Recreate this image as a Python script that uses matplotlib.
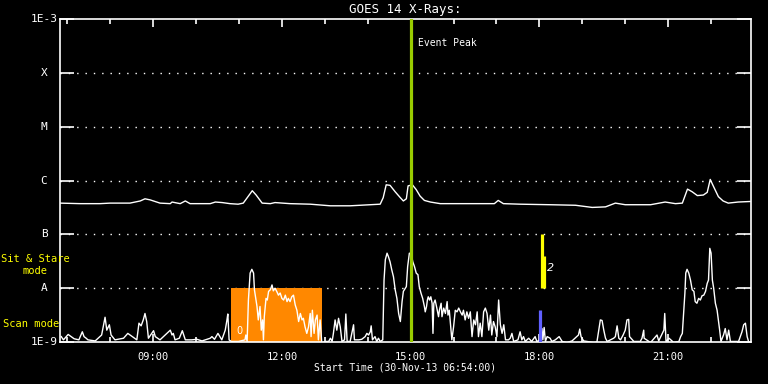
import numpy as np
import matplotlib
matplotlib.use("Agg")
import matplotlib.pyplot as plt
import matplotlib.transforms as mtransforms

# ---------- Data (time in hours of 30-Nov-13, log10 flux in W/m^2) ----------
long_t = [6.83, 7.30, 7.76, 8.00, 8.46, 8.70, 8.81, 8.93, 9.16, 9.40, 9.44, 9.63, 9.75, 9.86,
          10.33, 10.45, 10.61, 10.79, 10.98, 11.10, 11.21, 11.31, 11.40, 11.54, 11.73, 11.84,
          12.19, 12.66, 13.13, 13.59, 14.06, 14.29, 14.36, 14.43, 14.52, 14.64, 14.76, 14.83,
          14.90, 14.94, 15.04, 15.13, 15.22, 15.32, 15.46, 15.69, 16.16, 16.62, 16.95, 17.04,
          17.16, 17.55, 18.25, 18.84, 19.23, 19.54, 19.77, 20.00, 20.59, 20.93, 21.17, 21.33,
          21.45, 21.56, 21.68, 21.82, 21.91, 21.98, 22.05, 22.17, 22.28, 22.40, 22.63, 22.91]
long_log = [-6.42, -6.43, -6.43, -6.42, -6.42, -6.38, -6.34, -6.36, -6.42, -6.43, -6.40, -6.43,
            -6.38, -6.43, -6.43, -6.40, -6.41, -6.43, -6.44, -6.42, -6.30, -6.19, -6.27, -6.42,
            -6.43, -6.41, -6.43, -6.44, -6.47, -6.47, -6.45, -6.44, -6.32, -6.08, -6.09, -6.21,
            -6.32, -6.38, -6.34, -6.10, -6.08, -6.17, -6.29, -6.37, -6.40, -6.43, -6.43, -6.43,
            -6.43, -6.37, -6.43, -6.44, -6.45, -6.46, -6.50, -6.49, -6.42, -6.45, -6.45, -6.40,
            -6.43, -6.42, -6.16, -6.21, -6.28, -6.27, -6.22, -5.98, -6.10, -6.30, -6.38, -6.42,
            -6.40, -6.39]

short_t = [6.86, 6.91, 7.02, 7.16, 7.27, 7.35, 7.39, 7.44, 7.48, 7.65, 7.80, 7.88, 7.92, 7.98,
           8.02, 8.11, 8.31, 8.41, 8.62, 8.67, 8.72, 8.77, 8.81, 8.85, 8.89, 9.01, 9.05, 9.16,
           9.28, 9.40, 9.44, 9.47, 9.51, 9.61, 9.68, 9.75, 9.90, 10.02, 10.14, 10.33, 10.37,
           10.43, 10.51, 10.60, 10.68, 10.72, 10.74, 10.77, 10.82, 10.99, 11.14, 11.16, 11.19,
           11.22, 11.26, 11.30, 11.34, 11.36, 11.39, 11.42, 11.45, 11.49, 11.52, 11.55, 11.57,
           11.59, 11.63, 11.66, 11.69, 11.73, 11.77, 11.80, 11.84, 11.88, 11.92, 11.96, 12.00,
           12.04, 12.08, 12.12, 12.15, 12.19, 12.23, 12.27, 12.31, 12.35, 12.39, 12.43, 12.47,
           12.50, 12.54, 12.58, 12.62, 12.66, 12.68, 12.71, 12.75, 12.78, 12.82, 12.85, 12.89,
           12.93, 13.01, 13.09, 13.13, 13.17, 13.20, 13.24, 13.28, 13.32, 13.36, 13.40, 13.46,
           13.49, 13.52, 13.59, 13.67, 13.69, 13.79, 13.86, 13.94, 13.98, 14.02, 14.06, 14.08,
           14.11, 14.17, 14.21, 14.25, 14.29, 14.35, 14.38, 14.41, 14.45, 14.48, 14.52, 14.56,
           14.60, 14.64, 14.68, 14.72, 14.76, 14.80, 14.83, 14.90, 14.93, 14.97, 15.01, 15.05,
           15.09, 15.13, 15.17, 15.20, 15.24, 15.28, 15.32, 15.34, 15.37, 15.39, 15.41, 15.44,
           15.47, 15.50, 15.52, 15.54, 15.57, 15.61, 15.65, 15.67, 15.71, 15.73, 15.77, 15.81,
           15.85, 15.87, 15.90, 15.93, 15.96, 16.00, 16.04, 16.08, 16.12, 16.16, 16.20, 16.23,
           16.27, 16.31, 16.35, 16.39, 16.43, 16.47, 16.51, 16.55, 16.58, 16.62, 16.66, 16.70,
           16.74, 16.78, 16.82, 16.86, 16.89, 16.93, 16.97, 17.01, 17.05, 17.09, 17.13, 17.17,
           17.21, 17.28, 17.32, 17.36, 17.40, 17.50, 17.55, 17.59, 17.63, 17.67, 17.75, 17.82,
           17.90, 17.94, 18.02, 18.06, 18.08, 18.11, 18.14, 18.18, 18.25, 18.29, 18.37, 18.46,
           18.53, 18.64, 18.76, 18.91, 18.94, 18.97, 19.03, 19.27, 19.34, 19.42, 19.46, 19.50,
           19.54, 19.58, 19.73, 19.77, 19.81, 19.85, 19.89, 19.95, 20.00, 20.04, 20.08, 20.10,
           20.20, 20.35, 20.39, 20.43, 20.44, 20.59, 20.74, 20.78, 20.90, 20.92, 20.95, 21.02,
           21.13, 21.25, 21.29, 21.33, 21.36, 21.39, 21.41, 21.44, 21.48, 21.52, 21.56, 21.60,
           21.63, 21.67, 21.71, 21.75, 21.79, 21.83, 21.87, 21.91, 21.94, 21.97, 22.00, 22.03,
           22.06, 22.10, 22.14, 22.17, 22.20, 22.23, 22.29, 22.33, 22.37, 22.41, 22.45, 22.64,
           22.72, 22.76, 22.80, 22.84, 22.88, 22.91]
short_log = [-8.90, -8.96, -8.86, -8.94, -8.96, -8.81, -8.90, -8.93, -8.96, -8.98, -8.87, -8.54,
             -8.78, -8.68, -8.87, -8.96, -8.93, -8.84, -8.96, -8.65, -8.70, -8.59, -8.47, -8.62,
             -8.93, -8.79, -8.90, -8.96, -8.87, -8.78, -8.87, -8.84, -8.96, -8.93, -8.79, -8.96,
             -8.96, -8.95, -8.98, -8.93, -8.90, -8.95, -8.84, -8.96, -8.78, -8.59, -8.48, -8.96,
             -8.99, -8.99, -8.96, -8.87, -8.99, -8.22, -7.72, -7.65, -7.72, -8.03, -8.19, -8.34,
             -8.59, -8.34, -8.78, -8.59, -8.96, -8.53, -8.19, -8.22, -8.06, -8.03, -7.94, -8.05,
             -8.00, -8.06, -8.13, -8.09, -8.19, -8.22, -8.13, -8.25, -8.19, -8.25, -8.16, -8.13,
             -8.31, -8.41, -8.62, -8.47, -8.59, -8.56, -8.72, -8.84, -8.72, -8.47, -8.90, -8.41,
             -8.84, -8.59, -8.50, -8.96, -8.59, -9.02, -8.99, -8.99, -8.93, -8.99, -8.84, -8.59,
             -8.78, -8.56, -8.72, -8.99, -8.96, -8.48, -8.99, -8.99, -8.68, -8.96, -8.96, -8.95,
             -8.90, -8.84, -8.87, -8.81, -8.70, -8.96, -8.90, -8.99, -8.93, -8.99, -8.96, -7.85,
             -7.47, -7.35, -7.41, -7.51, -7.66, -7.79, -8.03, -8.19, -8.47, -8.62, -8.25, -8.06,
             -7.97, -7.60, -7.35, -7.36, -7.51, -7.60, -7.72, -7.75, -7.97, -8.09, -8.19, -8.34,
             -8.44, -8.34, -8.22, -8.16, -8.22, -8.16, -8.28, -8.84, -8.28, -8.22, -8.37, -8.53,
             -8.41, -8.28, -8.53, -8.37, -8.47, -8.25, -8.50, -8.41, -8.68, -8.96, -8.72, -8.41,
             -8.44, -8.37, -8.44, -8.50, -8.41, -8.59, -8.44, -8.56, -8.44, -8.90, -8.59, -8.68,
             -8.44, -8.90, -8.65, -8.90, -8.44, -8.37, -8.47, -8.78, -8.50, -8.87, -8.62, -8.72,
             -8.90, -8.22, -8.68, -8.84, -8.68, -8.96, -8.96, -8.93, -8.84, -8.99, -8.96, -8.81,
             -8.96, -8.90, -8.99, -8.93, -8.99, -8.90, -8.99, -8.96, -8.75, -8.96, -8.73, -8.99,
             -8.90, -8.93, -8.99, -8.96, -8.90, -8.99, -9.01, -8.98, -8.87, -8.76, -8.90, -8.98,
             -9.01, -9.00, -8.59, -8.60, -8.78, -8.93, -8.99, -8.93, -8.90, -8.70, -8.93, -8.96,
             -8.87, -8.78, -8.59, -8.58, -8.90, -8.99, -8.99, -8.93, -8.78, -8.93, -9.01, -8.87,
             -8.98, -8.78, -8.47, -8.99, -8.93, -9.01, -8.99, -8.90, -8.84, -8.47, -8.09, -7.72,
             -7.65, -7.72, -7.85, -8.03, -8.06, -8.25, -8.28, -8.19, -8.22, -8.14, -8.13, -8.06,
             -7.91, -7.85, -7.26, -7.35, -7.85, -8.00, -8.28, -8.41, -8.59, -8.78, -8.99, -8.87,
             -8.75, -8.96, -8.78, -8.99, -8.99, -8.81, -8.68, -8.65, -8.90, -9.01, -9.01]

class_levels = [1e-9, 1e-8, 1e-7, 1e-6, 1e-5, 1e-4, 1e-3]
class_labels = ["1E-9", "A", "B", "C", "M", "X", "1E-3"]
hour_ticks = [9, 12, 15, 18, 21]
hour_labels = ["09:00", "12:00", "15:00", "18:00", "21:00"]

event_peak = 15.0
scan_window = (10.82, 12.94)   # orange block, up to A level
sit_stare_t = 18.06
sit_stare_range = (1e-8, 1e-7)
sit_stare_mid = 10 ** -7.40
scan_mark_t = 18.01
scan_mark_top = 10 ** -8.41

# ---------- Plot ----------
mono = "DejaVu Sans Mono"
fig = plt.figure(figsize=(7.68, 3.84), dpi=100, facecolor="black")
ax = fig.add_axes([60 / 768, 42 / 384, 691 / 768, 323 / 384], facecolor="black")
ax.set_yscale("log")
ax.set_xlim(6.83, 22.93)
ax.set_ylim(1e-9, 1e-3)

# dotted class lines
for lv in class_levels[1:-1]:
    ax.axhline(lv, color="white", lw=1.0, ls=(0, (1, 5)), zorder=1)

ax.axvspan(scan_window[0], scan_window[1], ymin=0, ymax=1 / 6, color="#ff8800", lw=0, zorder=2)

ax.plot(long_t, 10 ** np.array(long_log), color="white", lw=1.0, zorder=4)
ax.plot(short_t, 10 ** np.array(short_log), color="white", lw=1.0, zorder=4)

ax.axvline(event_peak, color="#99cc00", lw=2.3, zorder=5)
ax.text(event_peak + 0.18, 10 ** -3.45, "Event Peak", color="white", fontsize=7,
        family=mono, va="center", ha="left")

ax.plot([sit_stare_t, sit_stare_t], sit_stare_range, color="#ffff00", lw=2.3, zorder=5,
        solid_capstyle="butt")
ax.plot([sit_stare_t + 0.05, sit_stare_t + 0.05], [sit_stare_range[0], sit_stare_mid],
        color="#ffff00", lw=2.3, zorder=5, solid_capstyle="butt")
ax.plot([scan_mark_t, scan_mark_t], [1e-9, scan_mark_top], color="#6060ff", lw=2.3, zorder=5,
        solid_capstyle="butt")
ax.text(sit_stare_t + 0.12, 10 ** -7.62, "2", color="white", fontsize=8, style="italic",
        va="center", ha="left", zorder=6)
ax.text(10.95, 10 ** -8.80, "0", color="white", fontsize=7, va="center", ha="left", zorder=6)

# axes frame and ticks
for sp in ax.spines.values():
    sp.set_color("white")
    sp.set_linewidth(1.2)

ax.set_xticks(hour_ticks)
ax.set_xticks(np.arange(7, 23), minor=True)
ax.set_xticklabels(hour_labels, color="white", fontsize=7.5, family=mono)
ax.tick_params(axis="x", which="major", direction="in", length=6, width=1.2, color="white",
               top=True, bottom=True, pad=7)
ax.tick_params(axis="x", which="minor", direction="in", length=3.5, width=1.2, color="white",
               top=True, bottom=True)

ax.set_yticks(class_levels)
ax.yaxis.set_minor_locator(matplotlib.ticker.NullLocator())
ax.set_yticklabels([])
ax.tick_params(axis="y", which="major", direction="in", length=10, width=1.2, color="white",
               left=True, right=True)

trans = mtransforms.blended_transform_factory(fig.transFigure, ax.transData)
for lv, lab in zip(class_levels, class_labels):
    ax.text(44 / 768, lv, lab, transform=trans, color="white", fontsize=8, family=mono,
            ha="center", va="center")

fig.text(35 / 768, 1 - 265 / 384, "Sit & Stare\nmode", color="#ffff00", fontsize=7.5,
         family=mono, ha="center", va="center", linespacing=1.25)
fig.text(3 / 768, 1 - 324 / 384, "Scan mode", color="#ffff00", fontsize=7.5, family=mono,
         ha="left", va="center")

fig.text(405 / 768, 1 - 10 / 384, "GOES 14 X-Rays:", color="white", fontsize=9, family=mono,
         ha="center", va="center")
fig.text(405 / 768, 1 - 368 / 384, "Start Time (30-Nov-13 06:54:00)", color="white",
         fontsize=7, family=mono, ha="center", va="center")

fig.savefig("out.png", dpi=100, facecolor="black")
